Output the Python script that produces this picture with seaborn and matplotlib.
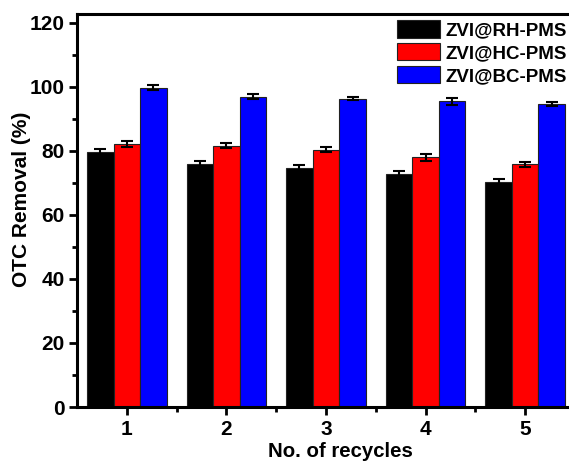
import numpy as np
import pandas as pd
import matplotlib
matplotlib.use("Agg")
import matplotlib.pyplot as plt
import seaborn as sns
from matplotlib.ticker import MultipleLocator

cycles = ["1", "2", "3", "4", "5"]
catalysts = ["ZVI@RH-PMS", "ZVI@HC-PMS", "ZVI@BC-PMS"]
rh_removal = [79.6, 76.0, 74.8, 72.7, 70.4]
hc_removal = [82.2, 81.6, 80.4, 78.1, 75.8]
bc_removal = [99.8, 97.0, 96.3, 95.6, 94.6]
rh_err = [0.9, 0.9, 0.8, 0.9, 0.9]
hc_err = [1.0, 0.8, 0.8, 1.1, 0.7]
bc_err = [0.9, 0.7, 0.5, 1.1, 0.7]
colors = ["#000000", "#ff0000", "#0000ff"]

df = pd.DataFrame({
    "cycle": cycles * 3,
    "catalyst": np.repeat(catalysts, len(cycles)),
    "removal": rh_removal + hc_removal + bc_removal,
    "err": rh_err + hc_err + bc_err,
})

sns.set_style("ticks", {"axes.edgecolor": "black", "text.color": "black",
                        "axes.labelcolor": "black", "xtick.color": "black",
                        "ytick.color": "black"})
plt.rcParams["font.family"] = ["Liberation Sans", "DejaVu Sans"]
plt.rcParams["font.weight"] = "bold"

fig = plt.figure(figsize=(5.69, 4.61), dpi=100)
ax = fig.add_axes([77 / 569, 54 / 461, 498 / 569, 393 / 461])

sns.barplot(data=df, x="cycle", y="removal", hue="catalyst",
            order=cycles, hue_order=catalysts, palette=colors,
            width=0.8, errorbar=None, edgecolor="#222222", linewidth=0.8,
            saturation=1, ax=ax)

# error bars placed on the centre/top of each drawn bar
for container, cat in zip(ax.containers, catalysts):
    sub = df[df["catalyst"] == cat].set_index("cycle").loc[cycles]
    xs = [p.get_x() + p.get_width() / 2 for p in container.patches]
    ax.errorbar(xs, sub["removal"].values, yerr=sub["err"].values, fmt="none",
                ecolor="black", elinewidth=1.5, capsize=4.5, capthick=1.5, zorder=5)

ax.set_xlim(-0.5, 4.5)
ax.set_ylim(0, 122.8)
ax.yaxis.set_major_locator(MultipleLocator(20))
ax.yaxis.set_minor_locator(MultipleLocator(10))
ax.set_xticks(range(len(cycles)))
ax.set_xticks([i + 0.5 for i in range(len(cycles) - 1)], minor=True)

for side in ["left", "top", "bottom"]:
    ax.spines[side].set_linewidth(2.2)
    ax.spines[side].set_color("black")
    ax.spines[side].set_visible(True)
ax.spines["right"].set_visible(False)
ax.tick_params(axis="both", which="major", direction="out", length=6, width=2,
               labelsize=15, pad=3, colors="black")
ax.tick_params(axis="both", which="minor", direction="out", length=3.5, width=2,
               colors="black")
ax.tick_params(axis="y", which="both", right=False)
ax.tick_params(axis="x", which="both", top=False)
for lab in ax.get_xticklabels() + ax.get_yticklabels():
    lab.set_fontweight("bold")

ax.set_xlabel("No. of recycles", fontsize=14.7, fontweight="bold", color="black")
ax.set_ylabel("OTC Removal (%)", fontsize=15, fontweight="bold", color="black")
ax.xaxis.set_label_coords((340.5 - 77) / 498, -0.088)
ax.yaxis.set_label_coords(-0.092, (407 - 199) / 393)

leg = ax.legend(loc="upper left", bbox_to_anchor=(0.643, 0.985), frameon=False,
                prop={"weight": "bold", "size": 13.5}, handlelength=2.3,
                handleheight=1.07, handletextpad=0.27, labelspacing=0.2,
                borderaxespad=0.0, borderpad=0.0)
for txt in leg.get_texts():
    txt.set_color("black")

fig.savefig("out.png", dpi=100)
